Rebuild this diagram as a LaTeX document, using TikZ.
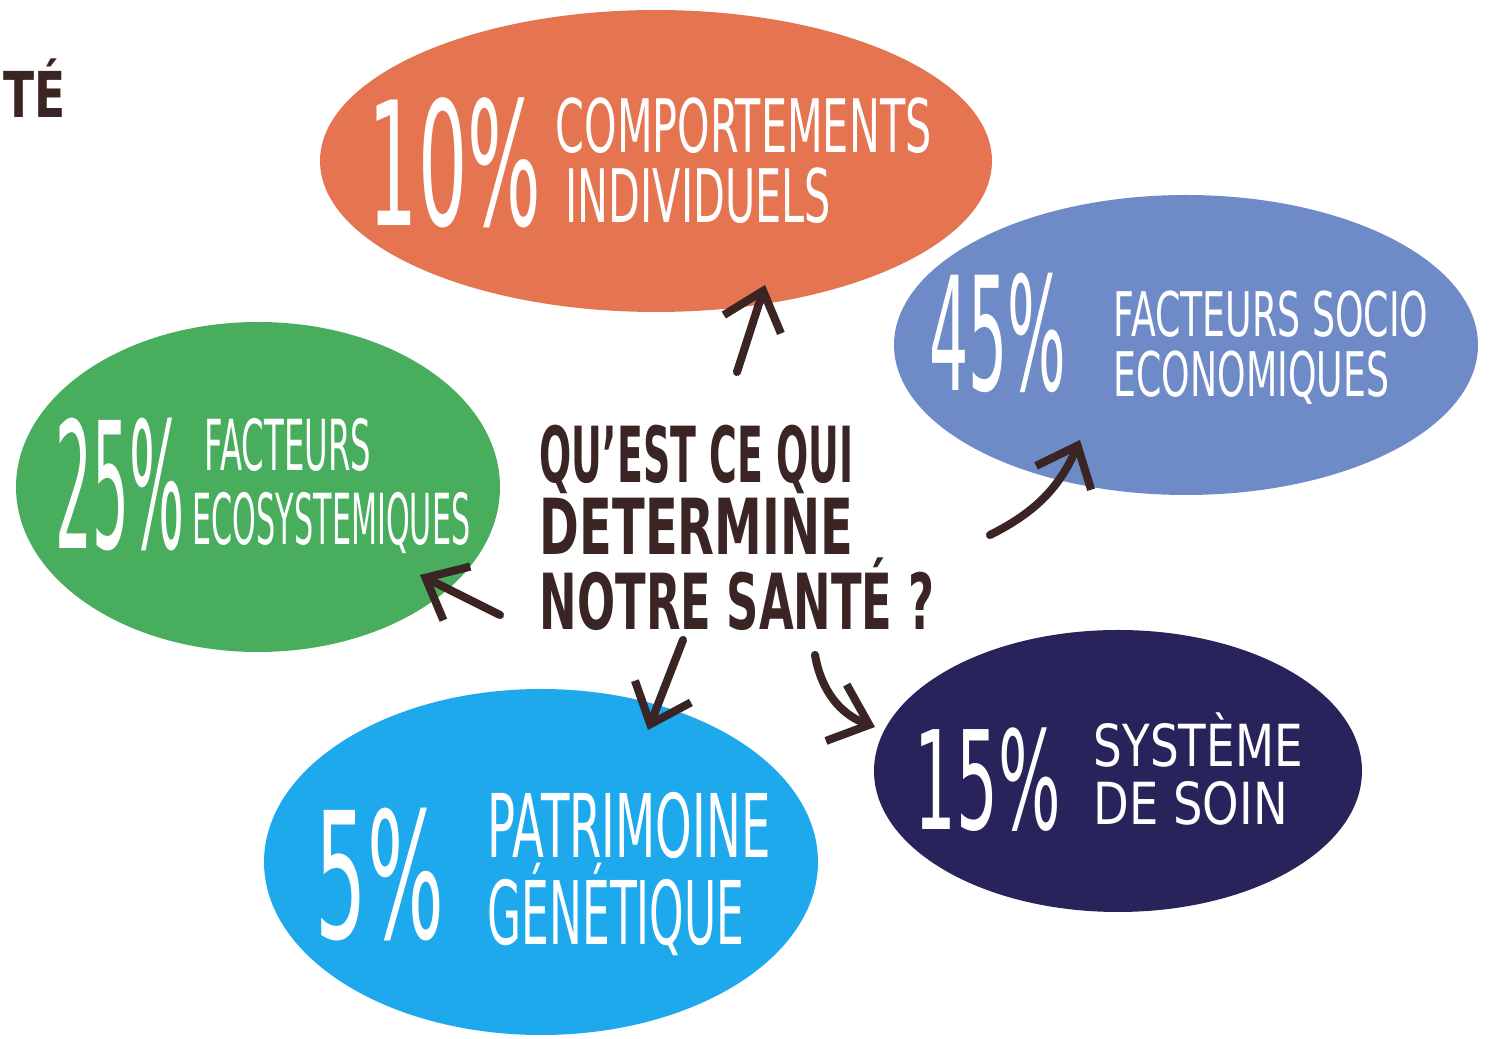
\documentclass[tikz,border=0pt]{standalone}
\usepackage{fontspec}
\setmainfont{DejaVu Sans}
\usepackage{graphicx}
\usetikzlibrary{arrows.meta,calc,shapes.geometric}

\definecolor{orangeA}{RGB}{229,117,81}
\definecolor{greyblue}{RGB}{110,139,200}
\definecolor{greenA}{RGB}{72,174,94}
\definecolor{skyblue}{RGB}{30,169,236}
\definecolor{navy}{RGB}{40,35,91}
\definecolor{ink}{RGB}{58,36,36}

\newcommand\sq[2]{\scalebox{#1}[1]{#2}}

\tikzset{
  blob/.style={ellipse, fill=#1, inner sep=0pt},
  pct/.style={text=white, inner sep=0pt},
  lbl/.style={text=white, inner sep=0pt, align=left, anchor=north west},
  arr/.style={-{Straight Barb[length=3.5mm,width=6mm]}, draw=ink, line width=2.3pt,
    line cap=round, line join=round},
}

\begin{document}
\begin{tikzpicture}[x=0.1mm,y=-0.1mm]
  % Frame
  \useasboundingbox (0,0) rectangle (1490,1039);
  \clip (0,0) rectangle (1490,1039);

  % Ellipses
  \node[blob=orangeA, minimum width=67.2mm, minimum height=30.2mm] (tenblob) at (656,161) {};
  \node[blob=greyblue, minimum width=58.4mm, minimum height=30mm] (fortyblob) at (1186,345) {};
  \node[blob=greenA, minimum width=48.4mm, minimum height=33mm] (twentyblob) at (258,487) {};
  \node[blob=skyblue, minimum width=55.4mm, minimum height=34.6mm] (fiveblob) at (541,862) {};
  \node[blob=navy, minimum width=48.8mm, minimum height=28.2mm] (fifteenblob) at (1118,771) {};

  % Percentages
  \node[pct, font=\fontsize{49}{49}\selectfont] (tenpct) at (455,163) {\sq{0.45}{10\%}};
  \node[pct, font=\fontsize{45}{45}\selectfont] (fortypct) at (998,333) {\sq{0.39}{45\%}};
  \node[pct, font=\fontsize{50}{50}\selectfont] (twentypct) at (120,485) {\sq{0.33}{25\%}};
  \node[pct, font=\fontsize{50}{50}\selectfont] (fivepct) at (380,875) {\sq{0.46}{5\%}};
  \node[pct, font=\fontsize{39}{39}\selectfont] (fifteenpct) at (988,780) {\sq{0.48}{15\%}};

  % Labels
  \node[lbl, font=\fontsize{21}{20}\selectfont] (tenlbl) at (555,97)
    {\sq{0.56}{COMPORTEMENTS}\\\hspace{1mm}\sq{0.56}{INDIVIDUELS}};
  \node[lbl, font=\fontsize{17.5}{17}\selectfont] (fortylbl) at (1113,290)
    {\sq{0.59}{FACTEURS SOCIO}\\\sq{0.59}{ECONOMIQUES}};
  \node[lbl, font=\fontsize{20}{21}\selectfont] (twentylbl) at (192,418)
    {\hspace{1.2mm}\sq{0.46}{FACTEURS}\\\sq{0.43}{ECOSYSTEMIQUES}};
  \node[lbl, font=\fontsize{25}{23}\selectfont] (fivelbl) at (487,792)
    {\sq{0.53}{PATRIMOINE}\\\sq{0.5}{GÉNÉTIQUE}};
  \node[lbl, font=\fontsize{16.5}{16.5}\selectfont] (fifteenlbl) at (1093,712)
    {\sq{0.78}{SYSTÈME}\\\sq{0.8}{DE SOIN}};

  % Question
  \node[text=ink, font=\bfseries\fontsize{22}{17.5}\selectfont, align=left, inner sep=0pt]
    (question) at (737,528)
    {\sq{0.49}{QU'EST CE QUI}\\\sq{0.62}{DETERMINE}\\\sq{0.58}{NOTRE SANTÉ ?}};
  \node[text=ink, font=\bfseries\fontsize{18}{18}\selectfont, anchor=base east, inner sep=0pt]
    (title) at (66,118) {\sq{0.72}{SANTÉ}};

  % Arrows
  \draw[arr] ($(question.center)+(0,-156)$) -- ($(tenblob.center)+(109,124)$);
  \draw[arr] ($(question.center)+(253,7)$) to[bend right=20] ($(fortyblob.center)+(-106,95)$);
  \draw[arr] ($(question.center)+(-237,87)$) -- ($(twentyblob.center)+(162,88)$);
  \draw[arr] ($(question.center)+(-54,112)$) -- ($(fiveblob.center)+(107,-132)$);
  \draw[arr] ($(question.center)+(78,127)$) to[bend right=30] ($(fifteenblob.center)+(-243,-44)$);
\end{tikzpicture}
\end{document}
